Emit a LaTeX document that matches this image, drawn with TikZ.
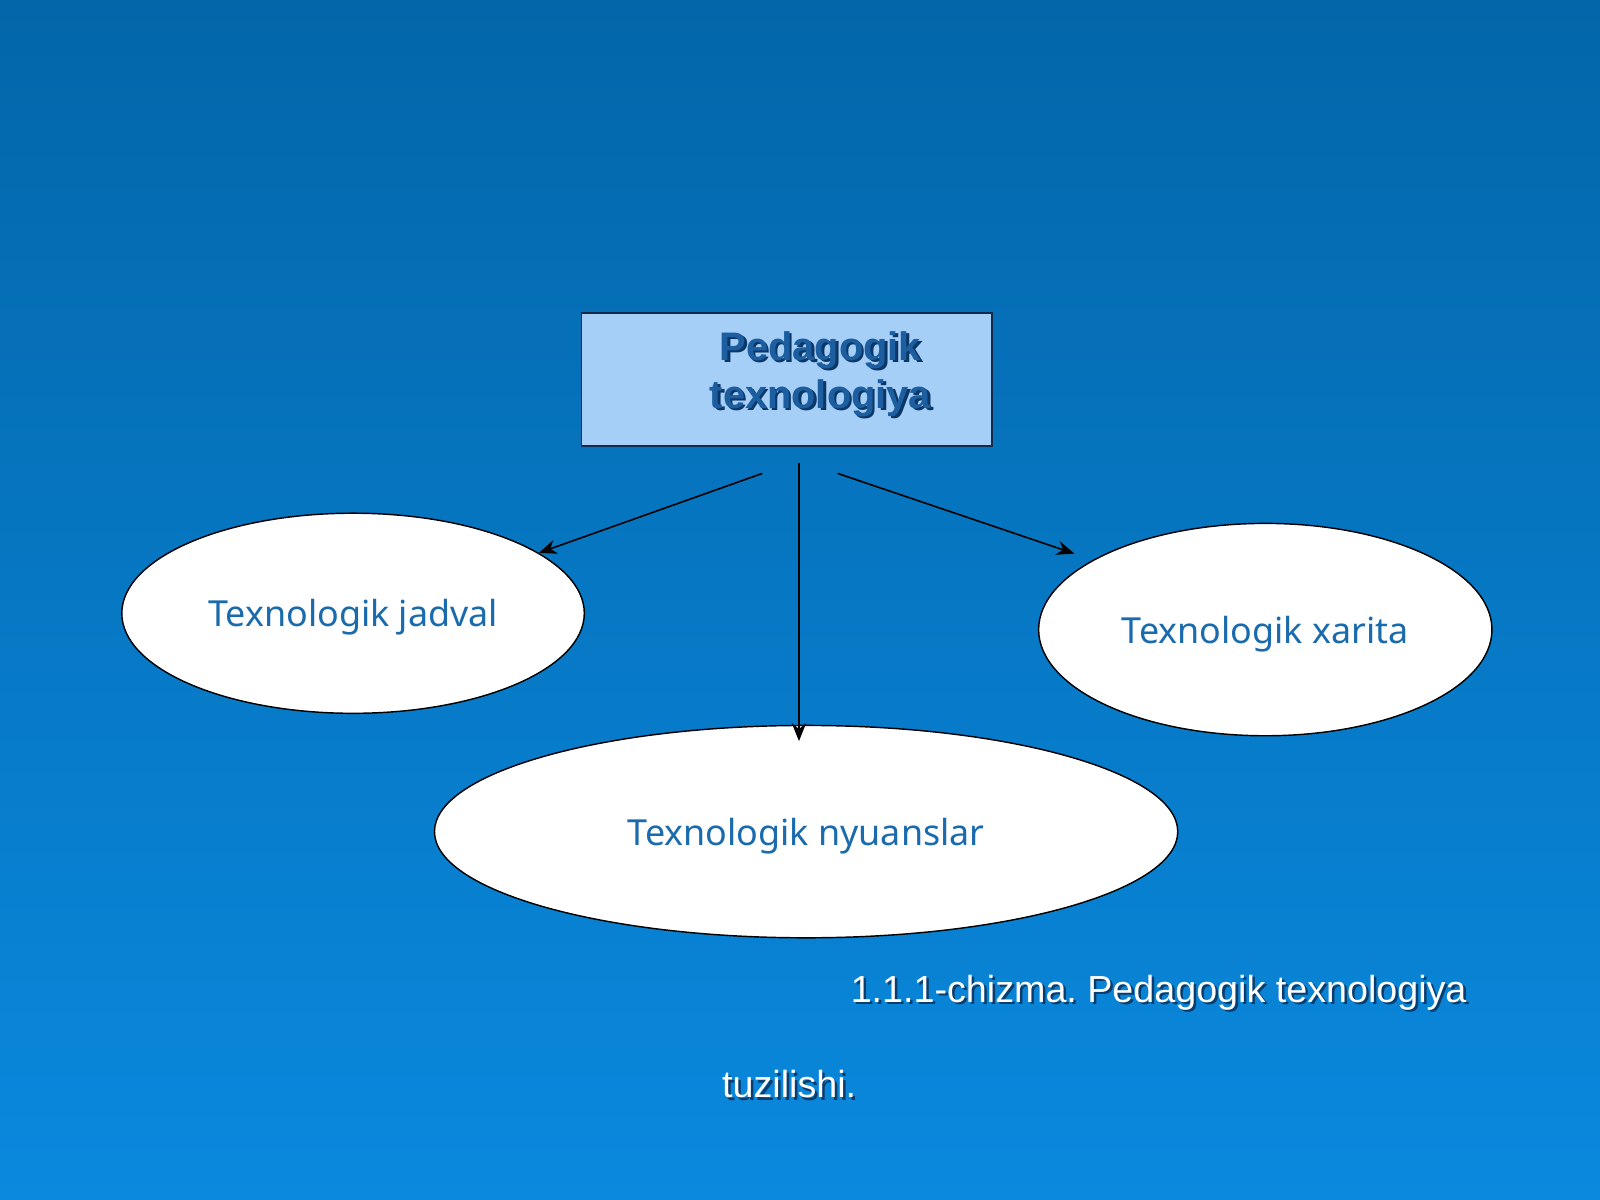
\documentclass[tikz,border=0pt]{standalone}
\usepackage{fontspec}
\setmainfont{Liberation Sans}
\newfontfamily\ovalfont{Noto Sans}
\usetikzlibrary{shapes.geometric,arrows.meta}
\frenchspacing

\definecolor{bgtop}{HTML}{0366A9}
\definecolor{bgbot}{HTML}{0A89DE}
\definecolor{boxfill}{HTML}{A6CFF8}
\definecolor{boxline}{HTML}{15294A}
\definecolor{titleblue}{HTML}{1C5E9F}
\definecolor{titleshade}{HTML}{0B3766}
\definecolor{ovaltext}{HTML}{1A6BAD}
\definecolor{capshade}{HTML}{0A3D6E}

% text with a small drop shadow
\newcommand\shtext[3]{\makebox[0pt][l]{\textcolor{#1}{\kern0.7pt\raisebox{-0.7pt}{#3}}}\textcolor{#2}{#3}}

\begin{document}
\begin{tikzpicture}[x=0.01cm, y=-0.01cm,
    topbox/.style={draw=boxline, line width=0.5pt, fill=boxfill, rectangle,
        minimum width=4.02cm, minimum height=1.30cm, inner sep=0pt, align=center,
        font=\fontsize{11.1}{13.4}\selectfont\bfseries},
    oval/.style={draw=black, line width=0.4pt, fill=white, ellipse, inner sep=0pt,
        text depth=0pt, text=ovaltext, font=\ovalfont\fontsize{10}{12}\selectfont},
    arr/.style={draw=black, line width=0.45pt, -{Stealth[length=5pt, width=4pt]}}]

  % background
  \shade[top color=bgtop, bottom color=bgbot] (0,0) rectangle (1568,1176);

  % main box
  \node[topbox] (ped) at (771,372)
    {\hspace*{0.66cm}\shtext{titleshade}{titleblue}{Pedagogik}\\
     \hspace*{0.66cm}\shtext{titleshade}{titleblue}{texnologiya}\\[-0.28cm]};

  % ellipses
  \node[oval, minimum width=4.53cm, minimum height=1.96cm] (jadval) at (346,601) {Texnologik jadval};
  \node[oval, minimum width=4.44cm, minimum height=2.08cm] (xarita) at (1240,617) {Texnologik xarita};
  \node[oval, minimum width=7.28cm, minimum height=2.08cm] (nyuans) at (790,815) {Texnologik nyuanslar};

  % arrow starts
  \coordinate (s1) at (747,464);
  \coordinate (s2) at (783,454);
  \coordinate (s3) at (821,464);

  \draw[arr] (s1) -- (jadval.18);
  \draw[arr, shorten >=-0.16cm] (s2) -- (s2 |- nyuans.north);
  \draw[arr, shorten >=0.19cm] (s3) -- (xarita.158);

  % caption
  \node[anchor=base west, align=left, text=white, inner sep=0pt,
        font=\fontsize{10.5}{26.7}\selectfont] (cap) at (707,1076)
    {\hspace*{1.26cm}\shtext{capshade}{white}{1.1.1-chizma. Pedagogik texnologiya}\\
     \shtext{capshade}{white}{tuzilishi.}};

\end{tikzpicture}
\end{document}
